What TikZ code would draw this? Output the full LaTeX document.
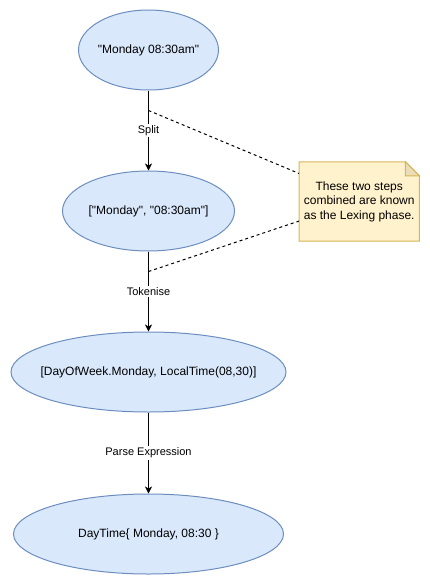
\documentclass[tikz,border=0pt]{standalone}
\usepackage{fontspec}
\setmainfont{Liberation Sans}
\usetikzlibrary{arrows.meta, positioning, shapes.geometric, backgrounds}
\definecolor{stagefill}{HTML}{DAE8FC}
\definecolor{stageline}{HTML}{6C8EBF}
\definecolor{notefill}{HTML}{FFF2CC}
\definecolor{noteline}{HTML}{D6B656}
\definecolor{notefold}{HTML}{EBDDB8}
\newcommand{\qt}{\textquotedbl}
\tikzset{
  stage/.style={ellipse, draw=stageline, fill=stagefill, line width=1pt,
                inner ysep=0pt, inner xsep=-30pt, minimum height=80pt,
                font=\fontsize{12}{14}\selectfont},
  flow/.style={-{Stealth[length=7pt, width=7pt, inset=2pt]}, line width=1pt},
  lbl/.style={fill=white, inner sep=1.5pt, font=\fontsize{11}{13}\selectfont},
  hint/.style={dash pattern=on 3pt off 3pt, line width=1pt},
  notebox/.style={minimum width=120pt, minimum height=79pt, inner sep=0pt,
                  align=center, font=\fontsize{12}{14.5}\selectfont},
  noteshape/.style={draw=noteline, fill=notefill, line width=1pt},
}

\begin{document}
\begin{tikzpicture}[node distance=80pt]
  \useasboundingbox (0,0) rectangle (429pt,-581pt);
  \node[stage, minimum width=140pt] (raw) at (148.5pt,-50pt)
    {\qt Monday 08:30am\qt};
  \node[stage, minimum width=172pt, below=of raw] (words)
    {[\qt Monday\qt, \qt 08:30am\qt]};
  \node[stage, minimum width=275pt, below=of words] (tokens)
    {[DayOfWeek.Monday, LocalTime(08,30)]};
  \node[stage, minimum width=270pt, below=81pt of tokens] (daytime)
    {DayTime\{ Monday, 08:30 \}};
  \node[notebox, right=64pt of words, yshift=9.5pt] (note)
    {These two steps\\ combined are known\\ as the Lexing phase.};

  \draw[flow] (raw) -- coordinate[pos=0.25] (lexstart)
    node[lbl, pos=0.5] {Split} (words);
  \draw[flow] (words) -- coordinate[pos=0.25] (lexend)
    node[lbl, pos=0.5] {Tokenise} (tokens);
  \draw[flow] (tokens) -- node[lbl, pos=0.5] {Parse Expression} (daytime);

  % the note with its folded corner
  \begin{scope}[on background layer]
    \draw[noteshape] (note.north west) -- ([xshift=-14pt]note.north east)
      -- ([yshift=-14pt]note.north east) -- (note.south east)
      -- (note.south west) -- cycle;
    \draw[noteshape, fill=notefold] ([xshift=-14pt]note.north east)
      -- ([xshift=-14pt, yshift=-14pt]note.north east)
      -- ([yshift=-14pt]note.north east) -- cycle;
  \end{scope}
  \draw[hint] (lexstart) -- (note.155);
  \draw[hint] (lexend) -- (note.198);
\end{tikzpicture}
\end{document}
